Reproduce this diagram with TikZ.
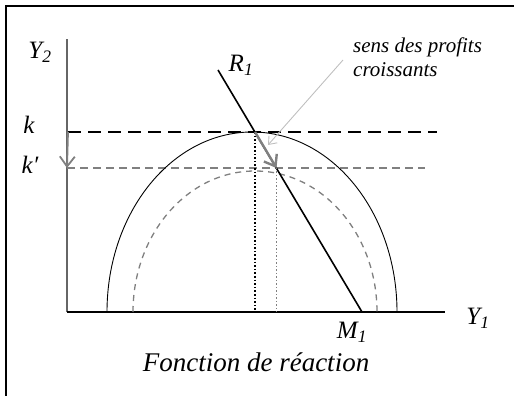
\documentclass[tikz,border=0pt]{standalone}
\usepackage{fontspec}
\setmainfont{Liberation Serif}
\usetikzlibrary{arrows.meta}
\begin{document}
\begin{tikzpicture}[x=1pt,y=1pt,>={Straight Barb[length=10pt,width=15pt]},
			lbl/.style={inner sep=0,font=\fontsize{25}{27}\selectfont\itshape},
			note/.style={inner sep=0,align=left,font=\fontsize{21}{24}\selectfont\itshape}]
			\useasboundingbox (0,0) rectangle (514,396);
			\draw[line width=2.5pt] (6,0) -- (6,390) -- (514,390);
			% axes
			\coordinate (O) at (67,84);
			\coordinate (ytop) at (67,357);
			\coordinate (xend) at (445,84);
			\draw[black!60,line width=1.3pt] (O) -- (ytop);
			\draw[line width=1.3pt] (O) -- (xend);
			\node[lbl] (y2) at (40,344) {Y\textsubscript{2}};
			\node[lbl] (y1) at (478,78) {Y\textsubscript{1}};
			% k and k'
			\coordinate (kL) at (68,264);
			\coordinate (kR) at (437,264);
			\coordinate (kpL) at (67,228);
			\coordinate (kpR) at (425,228);
			\draw[line width=2.8pt,dash pattern=on 13pt off 7pt] (kL) -- (kR);
			\draw[black!50,line width=1.3pt,dash pattern=on 8pt off 5pt] (kpL) -- (kpR);
			\node[lbl] (k) at (29,271) {k};
			\node[lbl] (kp) at (30,231) {k′};
			\draw[->,black!50,line width=1.8pt] (kL) -- (kpL);
			% iso-profit curves
			\draw[line width=0.9pt] (107,84) arc[start angle=180,end angle=0,x radius=145,y radius=180];
			\draw[black!50,line width=1.3pt,dash pattern=on 6pt off 5pt] (133,84) arc[start angle=180,end angle=0,x radius=122,y radius=141];
			% reaction function
			\coordinate (r1) at (218,326);
			\coordinate (m1) at (362,84);
			\coordinate (K) at (255,264);
			\coordinate (Kp) at (276.5,228);
			\draw[line width=1.6pt] (r1) -- (m1);
			\node[lbl] (R) at (241,331) {R\textsubscript{1}};
			\node[lbl] (M) at (352,64) {M\textsubscript{1}};
			\draw[dotted,line width=1.6pt] (K) -- (K |- O);
			\draw[dotted,black!50,line width=1.5pt] (Kp) -- (Kp |- O);
			\draw[->,black!50,line width=2.4pt] (K) -- (Kp);
			% annotation
			\node[note,anchor=north west] (sens) at (353,358) {sens des profits\\croissants};
			\coordinate (tip) at (268,251);
			\draw[->,black!25,line width=0.9pt,>={Straight Barb[length=7pt,width=11pt]}] (343,336) -- (tip);
			\node[inner sep=0,font=\fontsize{27}{30}\selectfont\itshape] (titre) at (256,34) {Fonction de réaction};
		\end{tikzpicture}
\end{document}
